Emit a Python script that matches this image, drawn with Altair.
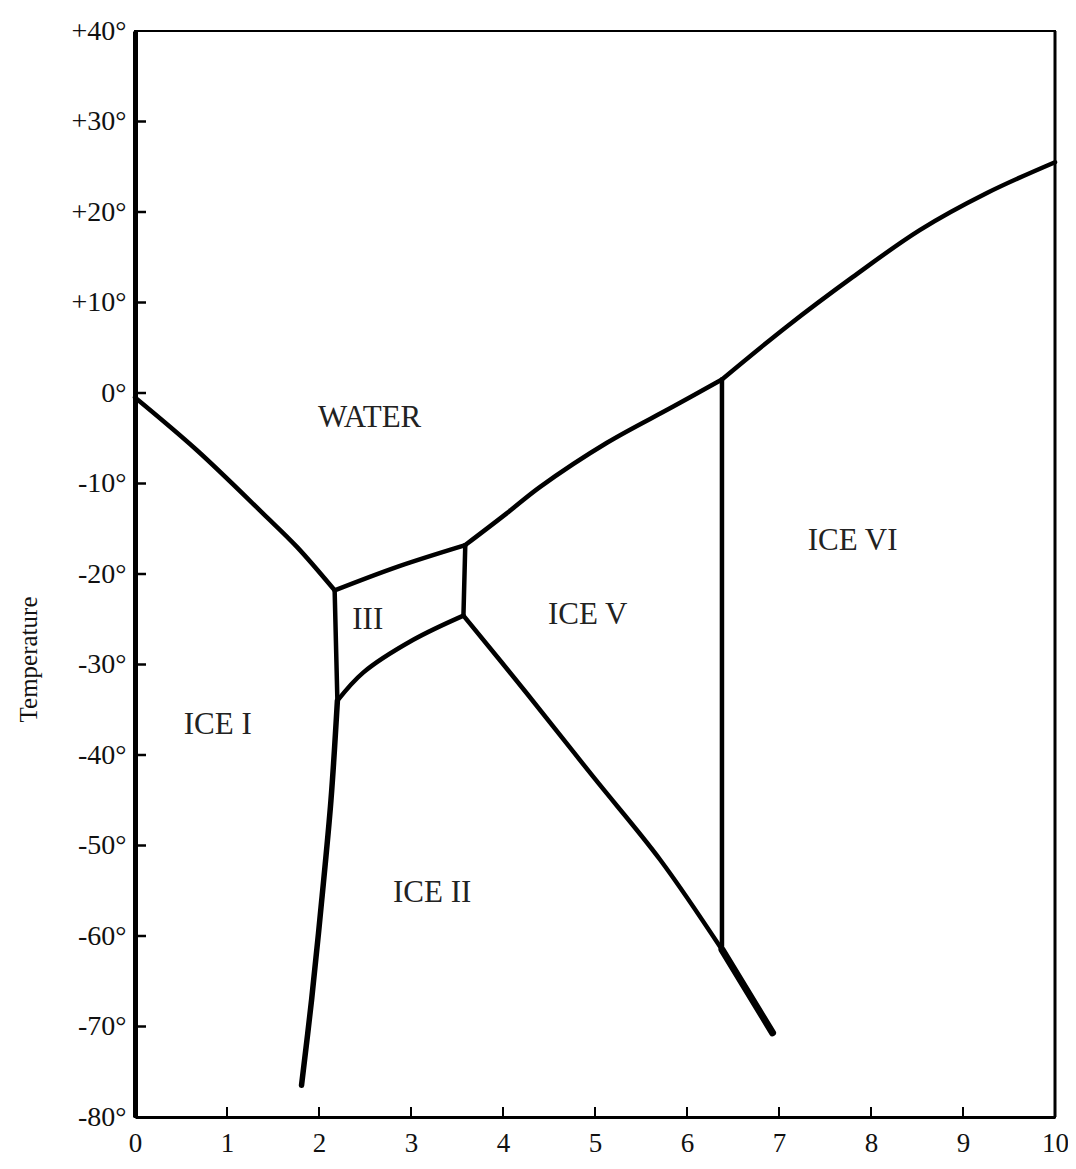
import altair as alt
import pandas as pd

# ---- phase boundaries (pressure in kbar, temperature in deg C) ----
ice1_water_x = [0.0, 0.67, 1.39, 1.76, 2.17]
ice1_water_t = [-0.5, -6.3, -13.3, -17.0, -21.8]

ice1_ice3_x = [2.17, 2.20]
ice1_ice3_t = [-21.8, -34.0]

ice3_water_x = [2.17, 2.85, 3.59]
ice3_water_t = [-21.8, -19.2, -16.8]

ice3_ice5_x = [3.59, 3.57]
ice3_ice5_t = [-16.8, -24.6]

ice2_ice3_x = [2.20, 2.48, 3.02, 3.57]
ice2_ice3_t = [-34.0, -30.9, -27.3, -24.6]

ice1_ice2_x = [2.20, 2.13, 2.03, 1.92, 1.81]
ice1_ice2_t = [-34.0, -45.0, -56.0, -67.0, -76.5]

ice5_water_x = [3.59, 4.04, 4.40, 5.13, 5.85, 6.38]
ice5_water_t = [-16.8, -13.3, -10.4, -5.5, -1.5, 1.5]

ice6_water_x = [6.38, 7.08, 7.80, 8.53, 9.26, 10.0]
ice6_water_t = [1.5, 7.3, 12.8, 18.0, 22.1, 25.5]

ice5_ice6_x = [6.38, 6.38]
ice5_ice6_t = [1.5, -61.5]

ice2_ice5_x = [3.57, 4.26, 4.98, 5.71, 6.38]
ice2_ice5_t = [-24.6, -33.2, -42.4, -51.6, -61.5]

ice2_ice6_x = [6.38, 6.93]
ice2_ice6_t = [-61.5, -70.7]

# ---- region labels ----
region_names = ["WATER", "III", "ICE V", "ICE VI", "ICE I", "ICE II"]
region_x = [2.55, 2.53, 4.92, 7.80, 0.90, 3.23]
region_t = [-2.8, -25.1, -24.5, -16.4, -36.7, -55.2]

# ---- ticks ----
x_ticks = [0, 1, 2, 3, 4, 5, 6, 7, 8, 9, 10]
y_ticks = [-80, -70, -60, -50, -40, -30, -20, -10, 0, 10, 20, 30, 40]

curves = {
    "I-water": (ice1_water_x, ice1_water_t, 4.5),
    "I-III": (ice1_ice3_x, ice1_ice3_t, 4.5),
    "III-water": (ice3_water_x, ice3_water_t, 4.5),
    "III-V": (ice3_ice5_x, ice3_ice5_t, 4.5),
    "II-III": (ice2_ice3_x, ice2_ice3_t, 4.5),
    "I-II": (ice1_ice2_x, ice1_ice2_t, 5.5),
    "V-water": (ice5_water_x, ice5_water_t, 4.5),
    "VI-water": (ice6_water_x, ice6_water_t, 4.5),
    "V-VI": (ice5_ice6_x, ice5_ice6_t, 4.5),
    "II-V": (ice2_ice5_x, ice2_ice5_t, 4.5),
    "II-VI": (ice2_ice6_x, ice2_ice6_t, 7),
}

rows = []
for name, (xs, ts, w) in curves.items():
    for i, (xv, tv) in enumerate(zip(xs, ts)):
        rows.append({"curve": name, "order": i, "p": xv, "t": tv, "w": w})
lines_df = pd.DataFrame(rows)

W, H = 920, 1086
FONT = "Liberation Serif"

xscale = alt.Scale(domain=[0, 10], nice=False, zero=False)
yscale = alt.Scale(domain=[-80, 40], nice=False, zero=False)

x_axis = alt.Axis(
    values=x_ticks, format="d", tickSize=0, domainWidth=3, domainColor="black",
    labelFont=FONT, labelFontSize=27, labelColor="#111", labelPadding=13,
    grid=False, title=None, labelFlush=False,
)
y_axis = alt.Axis(
    values=y_ticks, tickSize=0, domainWidth=5, domainColor="black",
    labelFont=FONT, labelFontSize=28, labelColor="#111", labelPadding=9,
    labelExpr="(datum.value > 0 ? '+' : '') + datum.value + '°'",
    grid=False, title="Temperature", titleFont=FONT, titleFontSize=25,
    titleFontWeight="normal", titleColor="#111", titleX=-107, titleY=628,
    titleAlign="center", titleBaseline="middle", titleAngle=-90, labelFlush=False,
)

base_lines = alt.Chart(lines_df).mark_line(
    color="black", strokeCap="round", strokeJoin="round", interpolate="catmull-rom"
).encode(
    x=alt.X("p:Q", scale=xscale, axis=x_axis),
    y=alt.Y("t:Q", scale=yscale, axis=y_axis),
    detail="curve:N",
    order="order:Q",
    strokeWidth=alt.StrokeWidth("w:Q", scale=None, legend=None),
)

labels_df = pd.DataFrame({"name": region_names, "p": region_x, "t": region_t})
labels = alt.Chart(labels_df).mark_text(font=FONT, fontSize=31, color="#222").encode(
    x=alt.X("p:Q", scale=xscale),
    y=alt.Y("t:Q", scale=yscale),
    text="name:N",
)

xt_df = pd.DataFrame({"p": x_ticks[1:-1]})
xticks = alt.Chart(xt_df).mark_rule(color="black", strokeWidth=2).encode(
    x=alt.X("p:Q", scale=xscale),
    y=alt.value(H),
    y2=alt.value(H - 10),
)

yt_df = pd.DataFrame({"t": y_ticks[1:-1]})
yticks = alt.Chart(yt_df).mark_rule(color="black", strokeWidth=2.5).encode(
    y=alt.Y("t:Q", scale=yscale),
    x=alt.value(0),
    x2=alt.value(11),
)

right_border = alt.Chart(pd.DataFrame({"p": [10]})).mark_rule(color="black", strokeWidth=3).encode(
    x=alt.X("p:Q", scale=xscale),
    y=alt.value(0),
    y2=alt.value(H),
)

chart = alt.layer(base_lines, labels, xticks, yticks, right_border).properties(
    width=W,
    height=H,
    autosize=alt.AutoSizeParams(type="none"),
    padding={"left": 127, "top": 23, "right": 13, "bottom": 44},
    background="white",
).configure_view(stroke="black", strokeWidth=2)

chart.save("out.html", embed_options={"renderer": "svg", "actions": False})
